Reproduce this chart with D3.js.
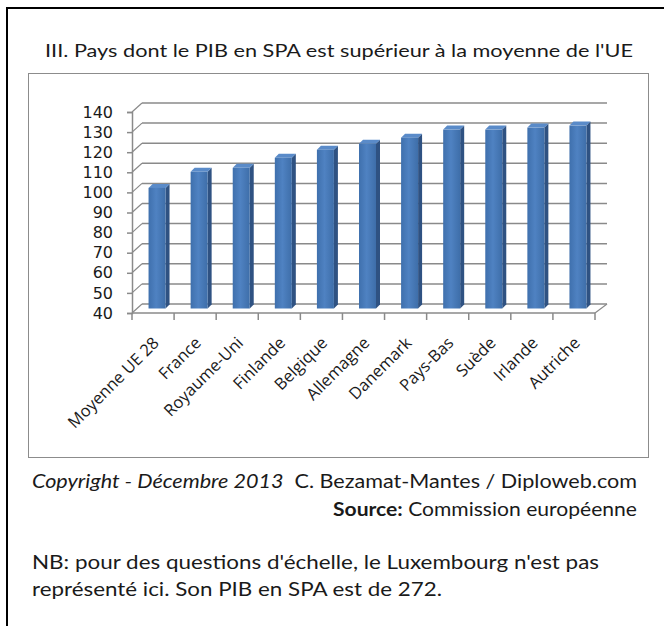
<!DOCTYPE html>
<html>
<head>
<meta charset="utf-8">
<script src="https://cdn.jsdelivr.net/npm/d3@7"></script>
<style>
  body { margin: 0; background: #fff; }
  svg text { fill: #1a1a1a; }
</style>
</head>
<body>
<div id="chart"></div>
<script>
// Data
var categories = ["Moyenne UE 28", "France", "Royaume-Uni", "Finlande", "Belgique",
                  "Allemagne", "Danemark", "Pays-Bas", "Suède", "Irlande", "Autriche"];
var values = [100, 108, 110, 115, 119, 122, 125, 129, 129, 130, 131];
var yTicks = [40, 50, 60, 70, 80, 90, 100, 110, 120, 130, 140];

var W = 664, H = 626;
var depth = {dx: 10, dy: 9};      // 3D wall offset
var barDepth = {dx: 4, dy: 4};

var svg = d3.select("#chart")
    .append("svg")
    .attr("width", W)
    .attr("height", H);

// outer frame (top + left only)
svg.append("path")
    .attr("d", "M7,626 V8 H664")
    .attr("fill", "none")
    .attr("stroke", "#000")
    .attr("stroke-width", 2);

// inner chart box
svg.append("rect")
    .attr("x", 28.5).attr("y", 73.5)
    .attr("width", 620).attr("height", 384)
    .attr("fill", "none")
    .attr("stroke", "#8c8c8c")
    .attr("stroke-width", 1);

// title
svg.append("text")
    .attr("x", 45).attr("y", 57)
    .attr("textLength", 588)
    .attr("lengthAdjust", "spacingAndGlyphs")
    .style("font-family", "Lato, 'Open Sans', sans-serif")
    .style("font-size", "18px")
    .text("III. Pays dont le PIB en SPA est supérieur à la moyenne de l'UE");

// scales
var x = d3.scaleBand()
    .domain(categories)
    .range([132, 595]);

var y = d3.scaleLinear()
    .domain([40, 140])
    .range([313, 112]);

var g = svg.append("g");
var gridColor = "#8a8a8a";

// back wall gridlines + side wall diagonals
yTicks.forEach(function(t) {
  g.append("line")
    .attr("x1", x.range()[0] + depth.dx).attr("y1", y(t) - depth.dy)
    .attr("x2", x.range()[1] + depth.dx + 2).attr("y2", y(t) - depth.dy)
    .attr("stroke", gridColor).attr("stroke-width", 1.5);
  g.append("line")
    .attr("x1", x.range()[0]).attr("y1", y(t))
    .attr("x2", x.range()[0] + depth.dx).attr("y2", y(t) - depth.dy)
    .attr("stroke", gridColor).attr("stroke-width", 1.2);
});

// floor front edge + right diagonal
g.append("line")
  .attr("x1", x.range()[0]).attr("y1", y(40))
  .attr("x2", x.range()[1]).attr("y2", y(40))
  .attr("stroke", gridColor).attr("stroke-width", 1.5);
g.append("line")
  .attr("x1", x.range()[1]).attr("y1", y(40))
  .attr("x2", x.range()[1] + depth.dx + 2).attr("y2", y(40) - depth.dy)
  .attr("stroke", gridColor).attr("stroke-width", 1.2);

// Y axis
svg.append("g")
  .attr("transform", "translate(" + x.range()[0] + ",0)")
  .call(d3.axisLeft(y).tickValues(yTicks).tickSize(5).tickPadding(14))
  .call(function(a) { a.select(".domain").attr("stroke", gridColor).attr("stroke-width", 1.5); })
  .call(function(a) { a.selectAll(".tick line").attr("stroke", gridColor).attr("stroke-width", 1.5); })
  .call(function(a) {
    a.selectAll(".tick text")
      .style("font-family", "'DejaVu Sans', Verdana, sans-serif")
      .style("font-size", "16px")
      .attr("fill", "#1a1a1a");
  });

// category ticks
var bounds = categories.map(function(c) { return x(c); }).concat([x.range()[1]]);
g.selectAll(".ctick")
  .data(bounds)
  .enter().append("line")
    .attr("x1", d => d).attr("x2", d => d)
    .attr("y1", y(40)).attr("y2", y(40) + 7)
    .attr("stroke", gridColor).attr("stroke-width", 1.5);

// bar gradient
var defs = svg.append("defs");
var grad = defs.append("linearGradient")
    .attr("id", "bar-front")
    .attr("x1", "0%").attr("x2", "100%").attr("y1", "0%").attr("y2", "0%");
grad.selectAll("stop")
  .data([
    {offset: "0%", color: "#3f70ad"},
    {offset: "45%", color: "#4f82c2"},
    {offset: "100%", color: "#3e6ea9"}
  ])
  .enter().append("stop")
    .attr("offset", d => d.offset)
    .attr("stop-color", d => d.color);

// bars
var barW = 17;
var bars = g.selectAll(".bar")
  .data(values)
  .enter().append("g")
    .attr("class", "bar");

function bx(d, i) { return x(categories[i]) + x.bandwidth() / 2 + depth.dx / 2 - barW / 2 - 1; }
var baseY = y(40) - depth.dy / 2;
function topY(d) { return y(d) - depth.dy / 2; }

// side face
bars.append("path")
  .attr("fill", "#2f5282")
  .attr("d", function(d, i) {
    var xr = bx(d, i) + barW;
    return "M" + xr + "," + topY(d) +
      " L" + (xr + barDepth.dx) + "," + (topY(d) - barDepth.dy) +
      " L" + (xr + barDepth.dx) + "," + (baseY - barDepth.dy) +
      " L" + xr + "," + baseY + "Z";
  });

// top face
bars.append("path")
  .attr("fill", "#5a8bc9")
  .attr("d", function(d, i) {
    var xl = bx(d, i), xr = xl + barW;
    return "M" + xl + "," + topY(d) +
      " L" + (xl + barDepth.dx) + "," + (topY(d) - barDepth.dy) +
      " L" + (xr + barDepth.dx) + "," + (topY(d) - barDepth.dy) +
      " L" + xr + "," + topY(d) + "Z";
  });

// front face
bars.append("rect")
  .attr("x", (d, i) => bx(d, i))
  .attr("y", d => topY(d))
  .attr("width", barW)
  .attr("height", d => baseY - topY(d))
  .attr("fill", "url(#bar-front)");

// category labels
g.selectAll(".clabel")
  .data(categories)
  .enter().append("text")
    .attr("text-anchor", "end")
    .attr("transform", function(c) {
      return "translate(" + (x(c) + x.bandwidth() / 2 + 7) + "," + (y(40) + 31) + ") rotate(-45)";
    })
    .style("font-family", "'Open Sans', sans-serif")
    .style("font-size", "16.5px")
    .text(c => c);

// footer
var foot = svg.append("g")
    .style("font-family", "Lato, 'Open Sans', sans-serif")
    .style("font-size", "18.5px");

var l1 = foot.append("text").attr("x", 32).attr("y", 488)
    .attr("textLength", 605).attr("lengthAdjust", "spacingAndGlyphs");
l1.append("tspan").style("font-style", "italic").text("Copyright - Décembre 2013");
l1.append("tspan").text("\u00a0\u00a0C. Bezamat-Mantes / Diploweb.com");

var l2 = foot.append("text").attr("x", 333).attr("y", 516)
    .attr("textLength", 304).attr("lengthAdjust", "spacingAndGlyphs");
l2.append("tspan").style("font-weight", "bold").text("Source:");
l2.append("tspan").text(" Commission européenne");

foot.append("text").attr("x", 32).attr("y", 569)
  .attr("textLength", 567).attr("lengthAdjust", "spacingAndGlyphs")
  .text("NB: pour des questions d'échelle, le Luxembourg n'est pas");
foot.append("text").attr("x", 32).attr("y", 596)
  .attr("textLength", 410).attr("lengthAdjust", "spacingAndGlyphs")
  .text("représenté ici. Son PIB en SPA est de 272.");
</script>
</body>
</html>
